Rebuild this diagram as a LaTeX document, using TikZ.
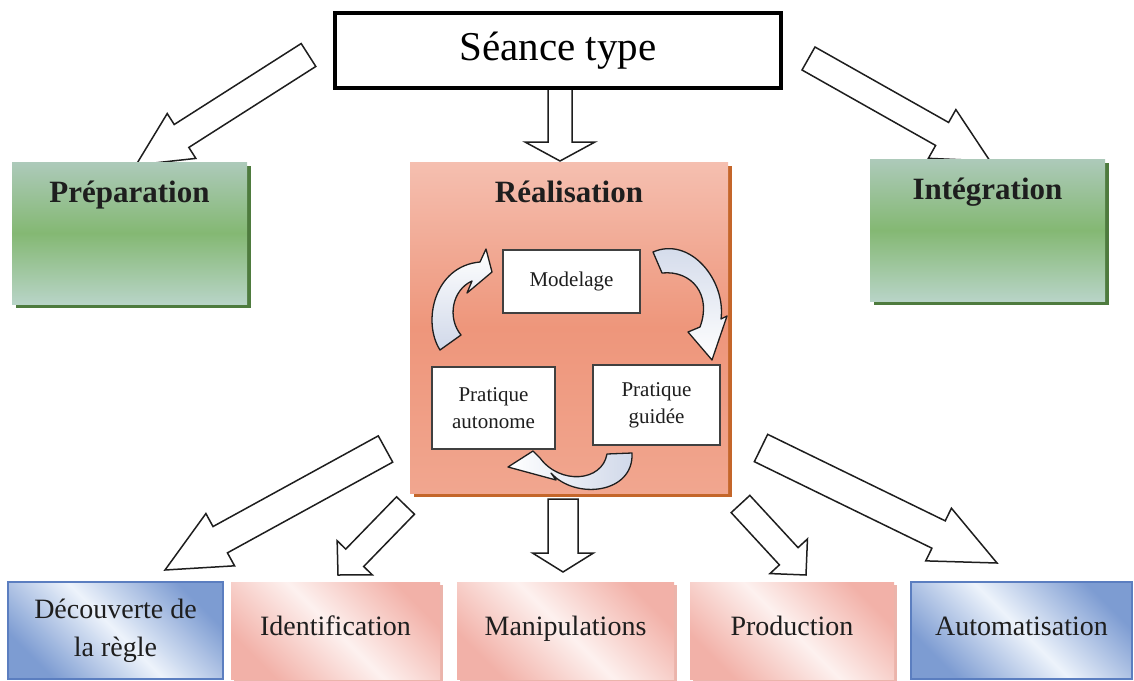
\documentclass[tikz,border=0pt]{standalone}
\usepackage{fontspec}
\setmainfont{Liberation Serif}
\usetikzlibrary{calc,shadows}

\definecolor{greenTop}{HTML}{ADCABA}
\definecolor{greenMid}{HTML}{84B873}
\definecolor{greenBot}{HTML}{B8D4C7}
\definecolor{greenShadow}{HTML}{4E7B3E}
\definecolor{salmonTop}{HTML}{F5BFB0}
\definecolor{salmonMid}{HTML}{EE967B}
\definecolor{salmonBot}{HTML}{F1A68F}
\definecolor{salmonShadow}{HTML}{C4662A}
\definecolor{pinkEdge}{HTML}{F2B1A8}
\definecolor{pinkLight}{HTML}{FDF1EF}
\definecolor{pinkShadow}{HTML}{EBB4AB}
\definecolor{blueEdge}{HTML}{7D9CD2}
\definecolor{blueLight}{HTML}{EDF3FB}
\definecolor{blueBorder}{HTML}{5B7EC0}
\definecolor{tailBlue}{HTML}{D0D8E9}
\definecolor{ink}{HTML}{1E1E1E}

% hollow block arrow: tail, tip, half shaft width, half head width, head length
\newcommand\blockarr[5]{%
  \coordinate (hb) at ($(#2)!#5!(#1)$);
  \draw[blockarrow] ($(#1)!#3!90:(#2)$) -- ($(hb)!#3!90:(#2)$) -- ($(hb)!#4!90:(#2)$)
    -- (#2) -- ($(hb)!#4!-90:(#2)$) -- ($(hb)!#3!-90:(#2)$) -- ($(#1)!#3!-90:(#2)$) -- cycle;
}

\tikzset{
  blockarrow/.style={draw=ink, line width=1.5pt, fill=white, line join=miter},
  curvearrow/.style={draw=ink, line width=1.3pt, line join=round},
  titlebox/.style={draw=black, line width=4pt, fill=white, inner sep=0pt,
    minimum width=446pt, minimum height=75pt, font=\fontsize{41}{48}\selectfont},
  phasebox/.style={inner sep=0pt, top color=greenTop, bottom color=greenBot, middle color=greenMid,
    general shadow={fill=greenShadow, shadow xshift=4pt, shadow yshift=-4pt}},
  corebox/.style={inner sep=0pt, top color=salmonTop, bottom color=salmonBot, middle color=salmonMid,
    general shadow={fill=salmonShadow, shadow xshift=4pt, shadow yshift=-4pt}},
  phasetitle/.style={anchor=base, inner sep=0pt, text=ink, font=\bfseries\fontsize{31}{36}\selectfont},
  stagebox/.style={draw=ink!85, line width=1.4pt, fill=white, inner sep=0pt, align=center,
    text=ink, font=\fontsize{21}{27}\selectfont},
  oneline/.style={text height=18pt, text depth=9pt},
  pinkbox/.style={inner sep=0pt, align=center, text=ink, font=\fontsize{28}{38}\selectfont,
    minimum height=97pt, top color=pinkEdge, bottom color=pinkEdge, middle color=pinkLight,
    shading angle=-45, general shadow={fill=pinkShadow, shadow xshift=3pt, shadow yshift=-3pt}},
  bluebox/.style={draw=blueBorder, line width=1.5pt, inner sep=0pt, align=center, text=ink,
    font=\fontsize{28}{38}\selectfont, minimum height=97pt,
    top color=blueEdge, bottom color=blueEdge, middle color=blueLight, shading angle=-45},
}

\begin{document}
\begin{tikzpicture}[x=1pt, y=-1pt]
\useasboundingbox (0,0) rectangle (1134,680);

% tails and tips of the hollow arrows
\coordinate (tPrep) at (308.5,55);   \coordinate (hPrep) at (136,165);
\coordinate (tInt)  at (808.5,58.5); \coordinate (hInt)  at (990,161);
\coordinate (tReal) at (560,88);     \coordinate (hReal) at (560,161);
\coordinate (tDec)  at (385.5,449);  \coordinate (hDec)  at (165,570);
\coordinate (tIde)  at (405.5,505.5);\coordinate (hIde)  at (338,575);
\coordinate (tMan)  at (563,499);    \coordinate (hMan)  at (563,572);
\coordinate (tPro)  at (740.5,504);  \coordinate (hPro)  at (806,575);
\coordinate (tAut)  at (761,448);    \coordinate (hAut)  at (997,563);

\blockarr{tPrep}{hPrep}{13.6pt}{26.6pt}{54pt}
\blockarr{tInt}{hInt}{13.2pt}{28pt}{55pt}
\blockarr{tReal}{hReal}{12pt}{35pt}{19pt}
\blockarr{tDec}{hDec}{15pt}{29.8pt}{63pt}
\blockarr{tIde}{hIde}{12.5pt}{24.5pt}{24pt}
\blockarr{tMan}{hMan}{15pt}{30.5pt}{19pt}
\blockarr{tPro}{hPro}{12.7pt}{25.5pt}{25.5pt}
\blockarr{tAut}{hAut}{15.2pt}{29.3pt}{65pt}

% top level
\node[titlebox] (seance) at (558,50.5) {Séance type};

% the three phases
\node[phasebox, minimum width=235pt, minimum height=142pt] (prep) at (129.5,233) {};
\node[phasetitle] (prepT) at ($(prep.north)+(0,41)$) {Préparation};
\node[phasebox, minimum width=235pt, minimum height=142pt] (integ) at (987.5,230) {};
\node[phasetitle] (integT) at ($(integ.north)+(0,41)$) {Intégration};
\node[corebox, minimum width=318pt, minimum height=331pt] (real) at (569,327.5) {};
\node[phasetitle] (realT) at ($(real.north)+(0,41)$) {Réalisation};

% cycle inside the realisation phase
\node[stagebox, minimum width=137pt, minimum height=63pt] (model) at (571.5,281.5) {Modelage};
\node[stagebox, minimum width=123pt, minimum height=82pt] (pauto) at (493.5,408) {Pratique\\autonome};
\node[stagebox, minimum width=127pt, minimum height=80pt] (pguid) at (656.5,405) {Pratique\\guidée};

% autonomous practice -> modelling
\draw[curvearrow, top color=white, bottom color=tailBlue]
  (440,350) .. controls (422,322) and (434,266) .. (480,262) -- (486,249) -- (492,272)
  -- (467,293) -- (472,281) .. controls (452,290) and (447,318) .. (461,335) -- cycle;
% modelling -> guided practice
\draw[curvearrow, top color=tailBlue, bottom color=white]
  (653,252) .. controls (690,236) and (726,280) .. (721,319) -- (727,316) -- (712,360)
  -- (688,332) -- (700,327) .. controls (712,295) and (692,270) .. (662,273) -- cycle;
% guided practice -> autonomous practice
\draw[curvearrow, left color=white, right color=tailBlue]
  (607,454) -- (632,453) .. controls (634,494) and (575,500) .. (551,473) -- (556,480)
  -- (508,467) -- (533,451) -- (540,458) .. controls (560,485) and (602,482) .. (607,454) -- cycle;

% activities
\node[bluebox, minimum width=215pt] (dec) at (115.5,630.5) {Découverte de\\la règle};
\node[pinkbox, oneline, minimum width=209pt] (ident) at (335.5,630.5) {Identification};
\node[pinkbox, oneline, minimum width=217pt] (manip) at (565.5,630.5) {Manipulations};
\node[pinkbox, oneline, minimum width=204pt] (prod) at (792,630.5) {Production};
\node[bluebox, oneline, minimum width=221pt] (auto) at (1021.5,630.5) {Automatisation};
\end{tikzpicture}
\end{document}
